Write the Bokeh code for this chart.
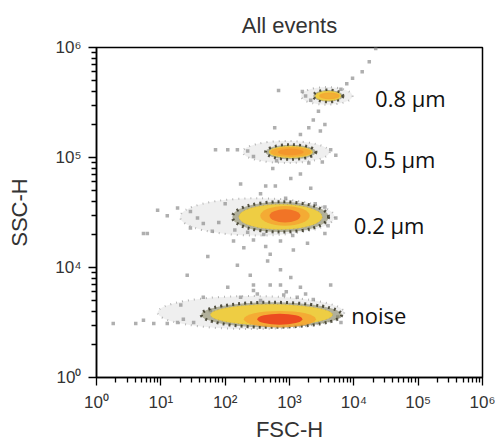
import numpy as np
from bokeh.plotting import figure
from bokeh.models import FixedTicker, Range1d
from bokeh.embed import file_html
from bokeh.resources import INLINE
from bokeh.core.properties import value

# ---------------- data (all positions in log10 of the channel value) ----------
x_ticks = [0, 1, 2, 3, 4, 5, 6]
x_tick_labels = ["10⁰", "10¹", "10²", "10³", "10⁴", "10⁵", "10⁶"]
y_ticks = [3, 4, 5, 6]
y_tick_labels = ["10⁰", "10⁴", "10⁵", "10⁶"]

pop_names = ["noise", "0.2 µm", "0.5 µm", "0.8 µm"]
# main (yellow) body of each population
pop_fsc = [2.72, 2.86, 3.02, 3.60]
pop_ssc = [3.57, 4.46, 5.05, 5.56]
pop_wx = [1.90, 1.30, 0.68, 0.40]
pop_wy = [0.19, 0.23, 0.11, 0.09]
# sparse grey halo
halo_fsc = [2.40, 2.50, 2.95, 3.58]
halo_ssc = [3.59, 4.46, 5.05, 5.56]
halo_wx = [2.90, 2.40, 1.35, 0.80]
halo_wy = [0.30, 0.34, 0.20, 0.16]
# dense core
core_fsc = [2.85, 2.93, 3.02, 3.62]
core_ssc = [3.53, 4.47, 5.05, 5.56]
core_wx = [0.70, 0.48, 0.40, 0.20]
core_wy = [0.10, 0.12, 0.06, 0.04]

# stray single events
stray_fsc = [4.34, 4.24, 4.13, 3.98, 3.89, 3.80, 3.25, 3.33, 3.20,
             3.37, 3.45, 3.30, 3.17, 3.48, 3.55, 2.77, 2.83,
             1.85, 2.04, 2.19, 2.35, 2.44, 3.64, 3.72, 3.51, 2.80, 3.30,
             2.74, 2.63, 2.78, 2.24, 3.17, 3.02, 3.33, 2.94, 2.55,
             0.95, 1.10, 1.26, 1.46, 1.57, 1.66, 0.73, 0.79, 1.46, 1.80, 3.72, 3.60, 3.55,
             2.13, 2.29, 2.44, 2.63, 2.86, 3.06, 3.28, 2.19, 2.39, 2.66, 2.86, 3.02,
             2.70, 2.44, 2.91, 3.12, 2.24, 2.55, 3.37, 1.73, 1.41, 1.31,
             0.26, 0.61, 0.73, 0.89, 1.10, 1.26, 1.35, 1.51, 2.04, 2.44, 2.86, 3.17,
             3.64, 1.66, 1.77, 3.75, 3.80,
             2.00, 2.15, 1.90, 3.40, 3.55, 2.60, 2.35, 3.05, 2.50, 2.95, 3.25, 2.70]
stray_ssc = [5.99, 5.87, 5.78, 5.72, 5.67, 5.62, 5.56, 5.52, 5.60,
             5.34, 5.42, 5.27, 5.21, 5.24, 5.30, 5.27, 5.61,
             5.07, 5.07, 5.07, 5.06, 5.01, 5.07, 5.02, 4.96, 4.97, 4.95,
             4.90, 4.74, 4.74, 4.76, 4.85, 4.81, 4.72, 4.63, 4.67,
             4.52, 4.47, 4.54, 4.51, 4.45, 4.40, 4.31, 4.31, 4.36, 4.33, 4.45, 4.38, 4.55,
             4.24, 4.18, 4.25, 4.19, 4.24, 4.16, 4.22, 4.02, 3.93, 4.06, 3.98, 3.91,
             3.84, 3.79, 3.75, 3.73, 3.73, 3.70, 3.71, 4.10, 3.93, 3.66,
             3.49, 3.49, 3.52, 3.49, 3.49, 3.50, 3.53, 3.50, 3.82, 3.84, 3.84, 3.82,
             3.84, 3.73, 3.61, 3.55, 3.50,
             4.58, 4.34, 4.41, 4.58, 4.31, 4.30, 4.32, 4.29, 3.76, 3.78, 3.76, 4.12]

label_fsc = [3.96, 4.00, 4.17, 4.33]
label_ssc = [3.57, 4.39, 4.99, 5.54]

# ---------------- figure -----------------------------------------------------
FONT = "Liberation Sans"
TXT = "#333333"
p = figure(width=495, height=444, x_range=Range1d(0, 6), y_range=Range1d(3, 6),
           output_backend="svg", toolbar_location=None, title="All events",
           min_border_left=96, min_border_right=13, min_border_top=47,
           min_border_bottom=63)
p.title.align = "center"
p.title.text_font = FONT
p.title.text_font_size = "22px"
p.title.text_font_style = "normal"
p.title.text_color = TXT
p.title.standoff = 19

p.grid.visible = False
p.outline_line_color = "black"
p.outline_line_width = 1.5
p.background_fill_color = "white"
p.border_fill_color = "white"

minor_x = [d + np.log10(k) for d in range(6) for k in range(2, 10)]
minor_y = [d + np.log10(k) for d in range(3, 6) for k in range(2, 10)]
p.xaxis.ticker = FixedTicker(ticks=x_ticks, minor_ticks=minor_x)
p.yaxis.ticker = FixedTicker(ticks=y_ticks, minor_ticks=minor_y)
p.xaxis.major_label_overrides = {t: l for t, l in zip(x_ticks, x_tick_labels)}
p.yaxis.major_label_overrides = {t: l for t, l in zip(y_ticks, y_tick_labels)}

for ax in (p.xaxis, p.yaxis):
    ax.axis_line_color = "black"
    ax.axis_line_width = 1.5
    ax.major_tick_line_color = "black"
    ax.minor_tick_line_color = "black"
    ax.major_tick_line_width = 1.3
    ax.minor_tick_line_width = 1.3
    ax.major_tick_in = 0
    ax.major_tick_out = 8
    ax.minor_tick_in = 0
    ax.minor_tick_out = 5
    ax.major_label_text_font = FONT
    ax.major_label_text_font_size = "17px"
    ax.major_label_text_color = TXT
    ax.axis_label_text_font = FONT
    ax.axis_label_text_font_size = "22px"
    ax.axis_label_text_font_style = "normal"
    ax.axis_label_text_color = TXT
p.xaxis.axis_label = "FSC-H"
p.yaxis.axis_label = "SSC-H"
p.xaxis.major_label_standoff = 7
p.yaxis.major_label_standoff = 7
p.xaxis.axis_label_standoff = 2
p.yaxis.axis_label_standoff = 20
p.yaxis.major_label_orientation = "horizontal"

# halos
p.ellipse(x=halo_fsc, y=halo_ssc, width=halo_wx, height=halo_wy,
          fill_color="#c4c4c4", fill_alpha=0.28, line_color="#9a9a9a",
          line_alpha=0.7, line_width=2, line_dash="1 5")

# stray events
p.scatter(x=stray_fsc, y=stray_ssc, size=3.5, marker="square",
          fill_color="#8d8d8d", line_color=None, fill_alpha=0.7)

# dark edge of the dense bodies
p.ellipse(x=pop_fsc, y=pop_ssc, width=[w * 1.15 for w in pop_wx],
          height=[h * 1.2 for h in pop_wy],
          fill_color="#7d7b55", fill_alpha=0.55, line_color="#2e2c1a",
          line_width=3, line_dash="2 4", line_alpha=0.8)
# yellow body
p.ellipse(x=pop_fsc, y=pop_ssc, width=pop_wx, height=pop_wy,
          fill_color="#f3cf3c", fill_alpha=0.92, line_color="#c9b23a",
          line_width=1, line_dash="1 3")
# orange ring
p.ellipse(x=core_fsc, y=core_ssc, width=[w * 1.6 for w in core_wx],
          height=[h * 1.5 for h in core_wy],
          fill_color="#f5a431", fill_alpha=0.85, line_color=None)
# core
core_colors = ["#ea3a1d", "#f06a25", "#f2922c", "#f0b035"]
p.ellipse(x=core_fsc, y=core_ssc, width=core_wx, height=core_wy,
          fill_color=core_colors, fill_alpha=0.85, line_color=None)

# population labels
p.text(x=label_fsc, y=label_ssc, text=pop_names,
       text_font=value("Open Sans"), text_font_size="22px",
       text_color="#111111", text_baseline="middle", text_align="left")

open("out.html", "w").write(file_html(p, INLINE))
